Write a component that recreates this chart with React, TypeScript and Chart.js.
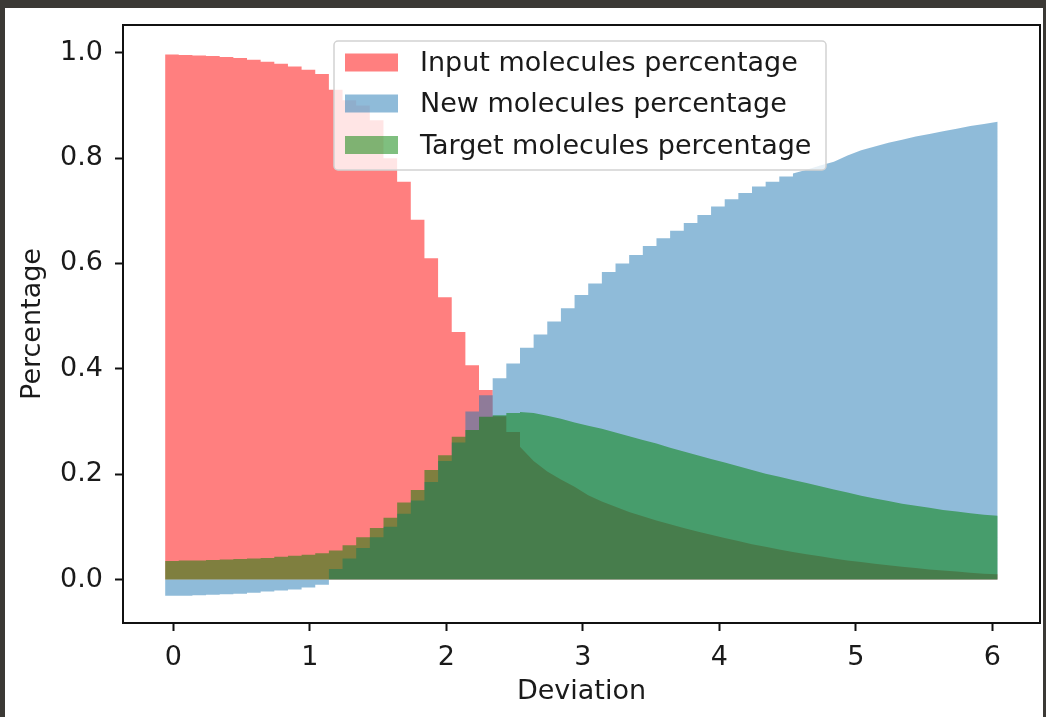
import React, { useEffect, useRef } from "react";
import { Chart, registerables } from "chart.js";

Chart.register(...registerables);

// Deviation values (step edges)
const DEVIATION = [
  -0.06, 0.04, 0.14, 0.24, 0.34, 0.44, 0.54, 0.64, 0.74, 0.84,
  0.94, 1.04, 1.14, 1.24, 1.34, 1.44, 1.54, 1.64, 1.74, 1.84,
  1.94, 2.04, 2.14, 2.24, 2.34, 2.44, 2.54, 2.64, 2.74, 2.84,
  2.94, 3.04, 3.14, 3.24, 3.34, 3.44, 3.54, 3.64, 3.74, 3.84,
  3.94, 4.04, 4.14, 4.24, 4.34, 4.44, 4.54, 4.64, 4.74, 4.84,
  4.94, 5.04, 5.14, 5.24, 5.34, 5.44, 5.54, 5.64, 5.74, 5.84,
  5.94, 6.04,
];

const INPUT_PCT = [
  0.997, 0.996, 0.995, 0.994, 0.992, 0.99, 0.987, 0.983, 0.979, 0.974,
  0.968, 0.96, 0.93, 0.91, 0.9, 0.872, 0.8, 0.755, 0.683, 0.61,
  0.536, 0.47, 0.407, 0.36, 0.31, 0.28, 0.252, 0.225, 0.205, 0.19,
  0.176, 0.16, 0.148, 0.138, 0.128, 0.12, 0.112, 0.105, 0.098, 0.091,
  0.085, 0.079, 0.073, 0.067, 0.062, 0.057, 0.052, 0.048, 0.044, 0.04,
  0.036, 0.033, 0.03, 0.027, 0.024, 0.022, 0.019, 0.017, 0.015, 0.013,
  0.011, 0.01,
];

const NEW_PCT = [
  -0.031, -0.031, -0.03, -0.029, -0.028, -0.027, -0.025, -0.023, -0.021, -0.019,
  -0.015, -0.01, 0.02, 0.04, 0.06, 0.08, 0.1, 0.125, 0.15, 0.185,
  0.225, 0.26, 0.319, 0.35, 0.382, 0.41, 0.44, 0.465, 0.49, 0.515,
  0.54, 0.562, 0.584, 0.6, 0.616, 0.633, 0.648, 0.662, 0.677, 0.692,
  0.708, 0.722, 0.734, 0.746, 0.755, 0.765, 0.771, 0.778, 0.786, 0.793,
  0.805, 0.815, 0.822, 0.829, 0.835, 0.841, 0.846, 0.851, 0.856, 0.861,
  0.865, 0.869,
];

const TARGET_PCT = [
  0.035, 0.036, 0.036, 0.037, 0.038, 0.039, 0.04, 0.041, 0.043, 0.045,
  0.047, 0.05, 0.055, 0.065, 0.08, 0.098, 0.117, 0.146, 0.17, 0.208,
  0.236, 0.271, 0.284, 0.309, 0.312, 0.316, 0.318, 0.316, 0.311, 0.305,
  0.298, 0.292, 0.286, 0.279, 0.272, 0.265, 0.258, 0.25, 0.243, 0.236,
  0.229, 0.222, 0.215, 0.208, 0.201, 0.195, 0.189, 0.183, 0.177, 0.171,
  0.165, 0.159, 0.154, 0.149, 0.144, 0.14, 0.136, 0.132, 0.129, 0.126,
  0.123, 0.121,
];

const SERIES_LABELS = [
  "Input molecules percentage",
  "New molecules percentage",
  "Target molecules percentage",
];
const X_TICKS = [0, 1, 2, 3, 4, 5, 6];
const Y_TICKS = [0, 0.2, 0.4, 0.6, 0.8, 1.0];
const X_TITLE = "Deviation";
const Y_TITLE = "Percentage";

// index up to which each series is drawn as visible stair-steps (smooth edge after)
const STEP_END = [26, 46, 26];

const FILLS = ["rgba(255,0,0,0.5)", "rgba(31,119,180,0.5)", "rgba(0,128,0,0.5)"];
const FONT = "'DejaVu Sans', sans-serif";
const TEXT = "#1a1a1a";

// step corners for the stair part, straight edges afterwards
function buildPoints(vals: number[], stepEnd: number) {
  const pts: { x: number; y: number }[] = [];
  DEVIATION.forEach((x, k) => {
    if (k > 0 && k <= stepEnd) pts.push({ x, y: vals[k - 1] });
    pts.push({ x, y: vals[k] });
  });
  return pts;
}

const framePlugin = {
  id: "mplFrame",
  afterDatasetsDraw(chart: any) {
    const { ctx, chartArea: a } = chart;
    ctx.save();
    ctx.strokeStyle = "#111";
    ctx.lineWidth = 2;
    ctx.strokeRect(a.left, a.top, a.right - a.left, a.bottom - a.top);
    ctx.restore();
  },
};

const legendPlugin = {
  id: "mplLegend",
  afterDraw(chart: any) {
    const { ctx, chartArea: a } = chart;
    const cx = (a.left + a.right) / 2;
    const w = 492;
    const h = 129;
    const x0 = cx - 247.5;
    const y0 = a.top + 16;
    ctx.save();
    ctx.beginPath();
    if ((ctx as any).roundRect) (ctx as any).roundRect(x0, y0, w, h, 4);
    else ctx.rect(x0, y0, w, h);
    ctx.fillStyle = "rgba(255,255,255,0.8)";
    ctx.fill();
    ctx.strokeStyle = "#d2d2d2";
    ctx.lineWidth = 1.5;
    ctx.stroke();
    const rows = [22, 63, 104.5];
    ctx.font = `27px ${FONT}`;
    ctx.textBaseline = "middle";
    ctx.textAlign = "left";
    SERIES_LABELS.forEach((label, i) => {
      const cy = y0 + rows[i];
      ctx.fillStyle = FILLS[i];
      ctx.fillRect(x0 + 11, cy - 9.5, 53, 18);
      ctx.fillStyle = TEXT;
      ctx.fillText(label, x0 + 86, cy + 1);
    });
    ctx.restore();
  },
};

export default function App() {
  const canvasRef = useRef<HTMLCanvasElement | null>(null);

  useEffect(() => {
    const canvas = canvasRef.current;
    if (!canvas) return;
    const series = [INPUT_PCT, NEW_PCT, TARGET_PCT];
    const datasets = series.map((vals, i) => ({
      label: SERIES_LABELS[i],
      data: buildPoints(vals, STEP_END[i]),
      fill: "origin",
      backgroundColor: FILLS[i],
      borderColor: "rgba(0,0,0,0)",
      borderWidth: 0,
      pointRadius: 0,
      tension: 0,
      order: 2 - i,
    }));
    const chart = new Chart(canvas, {
      type: "line",
      data: { datasets },
      options: {
        animation: false,
        responsive: false,
        devicePixelRatio: 1,
        layout: { padding: { left: 0, top: 17, right: 3, bottom: 0 } },
        plugins: {
          legend: { display: false },
          tooltip: { enabled: false },
        },
        scales: {
          x: {
            type: "linear",
            min: -0.3685,
            max: 6.35,
            afterBuildTicks: (scale: any) => {
              scale.ticks = X_TICKS.map((v) => ({ value: v }));
            },
            afterFit: (scale: any) => {
              scale.height = 94;
              scale.paddingLeft = 0;
              scale.paddingRight = 0;
              scale.paddingTop = 0;
              scale.paddingBottom = 0;
            },
            ticks: {
              callback: (v: any) => String(v),
              color: TEXT,
              font: { family: FONT, size: 27 },
              padding: 11,
              maxRotation: 0,
              autoSkip: false,
            },
            grid: {
              drawOnChartArea: false,
              drawTicks: true,
              tickLength: 8,
              tickWidth: 2,
              tickColor: "#111",
              color: "#111",
            },
            border: { display: false },
            title: {
              display: true,
              text: X_TITLE,
              color: TEXT,
              font: { family: FONT, size: 27 },
              padding: { top: 0, bottom: 9 },
            },
          },
          y: {
            type: "linear",
            min: -0.0826,
            max: 1.0528,
            afterBuildTicks: (scale: any) => {
              scale.ticks = Y_TICKS.map((v) => ({ value: v }));
            },
            afterFit: (scale: any) => {
              scale.width = 118;
              scale.paddingLeft = 0;
              scale.paddingRight = 0;
              scale.paddingTop = 0;
              scale.paddingBottom = 0;
            },
            ticks: {
              callback: (v: any) => Number(v).toFixed(1),
              color: TEXT,
              font: { family: FONT, size: 27 },
              padding: 12,
              autoSkip: false,
            },
            grid: {
              drawOnChartArea: false,
              drawTicks: true,
              tickLength: 8,
              tickWidth: 2,
              tickColor: "#111",
              color: "#111",
            },
            border: { display: false },
            title: {
              display: true,
              text: Y_TITLE,
              color: TEXT,
              font: { family: FONT, size: 27 },
              padding: { top: 12, bottom: 0 },
            },
          },
        },
      },
      plugins: [framePlugin, legendPlugin],
    } as any);
    return () => chart.destroy();
  }, []);

  return (
    <div
      style={{
        position: "fixed",
        left: 0,
        top: 0,
        width: 1046,
        height: 717,
        background: "#3b3935",
      }}
    >
      <div
        style={{
          position: "absolute",
          left: 5,
          top: 8,
          width: 1038,
          height: 709,
          background: "#ffffff",
        }}
      >
        <canvas ref={canvasRef} width={1038} height={709} style={{ display: "block" }} />
      </div>
    </div>
  );
}
